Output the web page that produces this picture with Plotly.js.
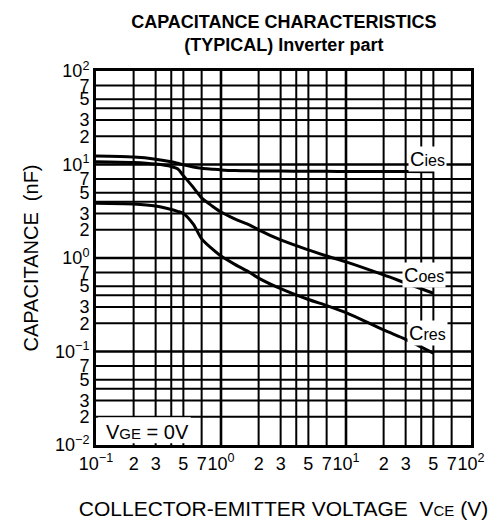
<!DOCTYPE html>
<html>
<head>
<meta charset="utf-8">
<script src="https://cdn.plot.ly/plotly-3.0.1.min.js"></script>
<style>html,body{margin:0;padding:0;background:#fff;}#chart{width:492px;height:520px;}</style>
</head>
<body>
<div id="chart"></div>
<script>
// Collector-emitter voltage VCE (V)
const vce  = [0.1, 0.2, 0.3, 0.4, 0.45, 0.5, 0.6, 0.7, 0.85, 1, 1.3, 1.7, 2, 3, 5, 7, 10, 20, 30, 50];
// Capacitances (nF)
const cies = [12.3, 12.0, 11.4, 10.7, 10.3, 9.9, 9.4, 9.1, 8.9, 8.75, 8.6, 8.55, 8.5, 8.5, 8.45, 8.45, 8.4, 8.4, 8.4, 8.35];
const coes = [10.7, 10.5, 10.1, 9.5, 9.0, 7.6, 5.7, 4.4, 3.6, 3.1, 2.6, 2.25, 2.0, 1.56, 1.22, 1.05, 0.91, 0.66, 0.54, 0.42];
const cres = [3.85, 3.78, 3.6, 3.3, 3.15, 3.0, 2.3, 1.6, 1.25, 1.05, 0.85, 0.7, 0.61, 0.47, 0.36, 0.31, 0.26, 0.17, 0.135, 0.096];

// Axis ticks
const xTickVals = [0.1,0.2,0.3,0.4,0.5,0.7, 1,2,3,4,5,7, 10,20,30,40,50,70, 100];
const xTickText = ['10<sup>−1</sup>','2','3','','5','7','10<sup>0</sup>','2','3','','5','7','10<sup>1</sup>','2','3','','5','7','10<sup>2</sup>'];
const yTickVals = [0.01,0.02,0.03,0.04,0.05,0.07, 0.1,0.2,0.3,0.4,0.5,0.7, 1,2,3,4,5,7, 10,20,30,40,50,70, 100];
const yTickText = ['10<sup>−2</sup>','2','3','','5','7','10<sup>−1</sup>','2','3','','5','7','10<sup>0</sup>','2','3','','5','7','10<sup>1</sup>','2','3','','5','7','10<sup>2</sup>'];
const xRange = [-1, 2];
const yRange = [-2, 2];

const FONT = '"Liberation Sans", Arial, Helvetica, sans-serif';
const curve = (y, name) => ({
  x: vce, y: y, name: name, type: 'scatter', mode: 'lines',
  line: {color: '#000', width: 3, shape: 'spline', smoothing: 0.8},
  hoverinfo: 'skip'
});

const traces = [curve(cies, 'Cies'), curve(coes, 'Coes'), curve(cres, 'Cres')];

// grid lines drawn from the tick arrays (decades heavier)
const gridShapes = [];
const isDecade = v => Math.abs(Math.log10(v) - Math.round(Math.log10(v))) < 1e-9;
xTickVals.forEach(v => {
  const p = (Math.log10(v) - xRange[0]) / (xRange[1] - xRange[0]);
  if (p <= 0.001 || p >= 0.999) return;
  gridShapes.push({type: 'line', xref: 'paper', yref: 'paper', x0: p, x1: p, y0: 0, y1: 1,
                   line: {color: '#000', width: isDecade(v) ? 2.6 : 2}, layer: 'below'});
});
yTickVals.forEach(v => {
  const p = (Math.log10(v) - yRange[0]) / (yRange[1] - yRange[0]);
  if (p <= 0.001 || p >= 0.999) return;
  gridShapes.push({type: 'line', xref: 'paper', yref: 'paper', x0: 0, x1: 1, y0: p, y1: p,
                   line: {color: '#000', width: isDecade(v) ? 2.6 : 2}, layer: 'below'});
});

const layout = {
  width: 492, height: 520,
  margin: {l: 96, r: 21, t: 71, b: 75},
  paper_bgcolor: '#fff', plot_bgcolor: 'rgba(0,0,0,0)',
  showlegend: false,
  font: {family: FONT, color: '#000', size: 18},
  title: {
    text: '<b>CAPACITANCE CHARACTERISTICS</b><br><b>(TYPICAL) Inverter part</b>',
    font: {family: FONT, size: 18, color: '#000'},
    x: 0.577, xanchor: 'center', xref: 'container',
    y: 0.947, yanchor: 'top', yref: 'container'
  },
  xaxis: {
    type: 'log', range: xRange, tickmode: 'array', tickvals: xTickVals, ticktext: xTickText,
    ticks: '', tickangle: 0, showgrid: false,
    showline: true, mirror: true, linecolor: '#000', linewidth: 3,
    tickfont: {family: FONT, size: 18, color: '#000'},
    zeroline: false,
    title: {text: 'COLLECTOR-EMITTER VOLTAGE  V<span style="font-size:15px">CE</span> (V)',
            font: {family: FONT, size: 21, color: '#000'}, standoff: 30}
  },
  yaxis: {
    type: 'log', range: yRange, tickmode: 'array', tickvals: yTickVals, ticktext: yTickText,
    ticks: '', tickangle: 0, showgrid: false,
    showline: true, mirror: true, linecolor: '#000', linewidth: 3,
    tickfont: {family: FONT, size: 18, color: '#000'},
    zeroline: false,
    title: {text: 'CAPACITANCE  (nF)', font: {family: FONT, size: 20, color: '#000'}, standoff: 12}
  },
  shapes: gridShapes.concat([
    {type: 'rect', xref: 'paper', yref: 'paper', x0: 0.005, x1: 0.253, y0: 0.005, y1: 0.074,
     fillcolor: '#fff', line: {width: 0}, layer: 'above'}
  ]),
  annotations: [
    {xref: 'paper', yref: 'paper', x: 0.885, y: 0.766, xanchor: 'center', yanchor: 'middle',
     showarrow: false, bgcolor: '#fff', borderpad: 1,
     text: 'C<span style="font-size:16px">ies</span>', font: {family: FONT, size: 20, color: '#000'}},
    {xref: 'paper', yref: 'paper', x: 0.875, y: 0.455, xanchor: 'center', yanchor: 'middle',
     showarrow: false, bgcolor: '#fff', borderpad: 1,
     text: 'C<span style="font-size:16px">oes</span>', font: {family: FONT, size: 20, color: '#000'}},
    {xref: 'paper', yref: 'paper', x: 0.883, y: 0.299, xanchor: 'center', yanchor: 'middle',
     showarrow: false, bgcolor: '#fff', borderpad: 1,
     text: 'C<span style="font-size:16px">res</span>', font: {family: FONT, size: 20, color: '#000'}},
    {xref: 'paper', yref: 'paper', x: 0.136, y: 0.036, xanchor: 'center', yanchor: 'middle',
     showarrow: false,
     text: 'V<span style="font-size:15px">GE</span> = 0V', font: {family: FONT, size: 20, color: '#000'}}
  ]
};

Plotly.newPlot('chart', traces, layout, {displayModeBar: false});
</script>
</body>
</html>
